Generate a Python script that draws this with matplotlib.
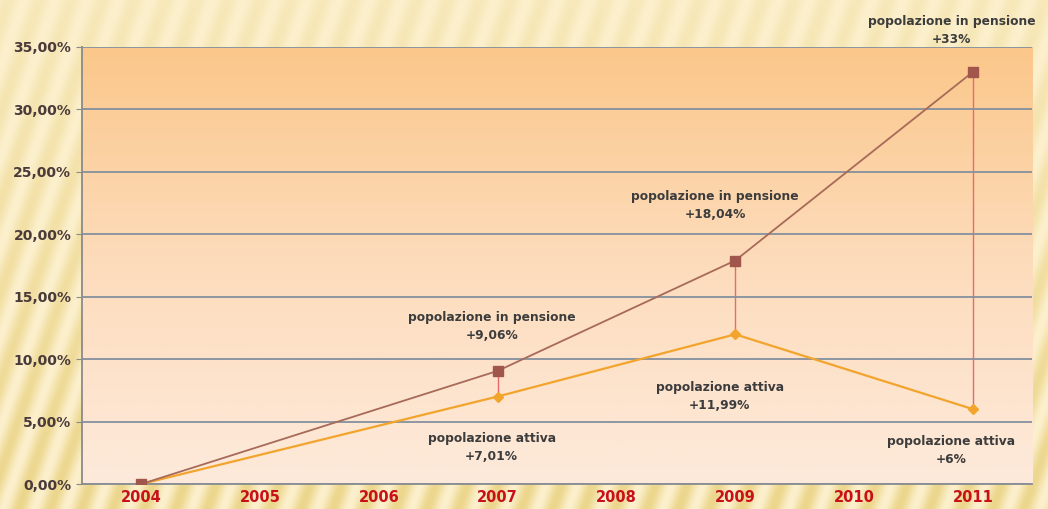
import numpy as np
import matplotlib
matplotlib.use('Agg')
import matplotlib.pyplot as plt
from matplotlib.colors import LinearSegmentedColormap
from matplotlib.ticker import FuncFormatter

anni = ['2004', '2005', '2006', '2007', '2008', '2009', '2010', '2011']
anni_dati = ['2004', '2007', '2009', '2011']
pensione = [0.0, 9.06, 17.9, 33.0]
attiva = [0.0, 7.01, 11.99, 6.0]
etichette_pensione = ['', 'popolazione in pensione\n+9,06%', 'popolazione in pensione\n+18,04%',
                      'popolazione in pensione\n+33%']
etichette_attiva = ['', 'popolazione attiva\n+7,01%', 'popolazione attiva\n+11,99%',
                    'popolazione attiva\n+6%']

fig = plt.figure(figsize=(10.48, 5.09), dpi=100)

# sfondo a righe diagonali
bg = fig.add_axes([0, 0, 1, 1], zorder=-10)
xx, yy = np.meshgrid(np.arange(1048), np.arange(509))
stripes = (np.sin((xx + 0.35 * yy) / 5.0) + 1) / 2
vert = yy / 509.0
base = np.zeros((509, 1048, 3))
c1 = np.array([252, 240, 205]) / 255
c2 = np.array([236, 214, 140]) / 255
mix = stripes * (0.3 + 0.7 * vert)
base[:] = c1 * (1 - mix[..., None]) + c2 * mix[..., None]
bg.imshow(base, aspect='auto', extent=[0, 1, 0, 1])
bg.axis('off')

ax = fig.add_axes([0.078, 0.049, 0.907, 0.8587])
x = [anni.index(a) for a in anni_dati]

# gradiente area del grafico
grad = np.linspace(0, 1, 256).reshape(-1, 1)
cmap = LinearSegmentedColormap.from_list('g', ['#FDEADB', '#FDDCBC', '#FBC78A'])
ax.imshow(grad, aspect='auto', cmap=cmap, origin='lower',
          extent=[-0.5, 7.5, 0, 35], zorder=0)

for i in range(1, len(x)):
    ax.plot([x[i], x[i]], [attiva[i], pensione[i]], color='#E86A6A', lw=1, zorder=2)

ax.plot(x, pensione, color='#A86A58', lw=1.3, marker='s', ms=7,
        mfc='#A0564A', mec='#A0564A', zorder=4)
ax.plot(x, attiva, color='#F2A42C', lw=1.6, marker='D', ms=5,
        mfc='#F2A42C', mec='#F2A42C', zorder=3)

ax.set_xlim(-0.5, 7.5)
ax.set_ylim(0, 35)
ax.set_yticks(np.arange(0, 36, 5))
ax.yaxis.set_major_formatter(FuncFormatter(lambda v, p: f'{v:.2f}%'.replace('.', ',')))
ax.set_xticks(range(len(anni)))
ax.set_xticklabels(anni)
ax.grid(axis='y', color='#84909E', lw=1.3, zorder=1)
ax.set_axisbelow(False)
for s in ['top', 'right']:
    ax.spines[s].set_visible(False)
for s in ['left', 'bottom']:
    ax.spines[s].set_color('#8A8A8A')
    ax.spines[s].set_linewidth(1.3)
ax.tick_params(axis='y', length=4, color='#8A8A8A', labelsize=10, labelcolor='#4A3A3A')
ax.tick_params(axis='x', length=0, labelsize=10.5, labelcolor='#C8101A', pad=4)
for t in ax.get_yticklabels() + ax.get_xticklabels():
    t.set_fontweight('bold')

pos_pensione = [None, (2.95, 12.65), (4.83, 22.3), (6.82, 36.3)]
pos_attiva = [None, (2.95, 2.9), (4.87, 7.0), (6.82, 2.7)]
for i in range(1, len(x)):
    ax.text(*pos_pensione[i], etichette_pensione[i], ha='center', va='center',
            fontsize=8.8, fontweight='bold', color='#3C3C3C', linespacing=1.5,
            clip_on=False, zorder=5)
    ax.text(*pos_attiva[i], etichette_attiva[i], ha='center', va='center',
            fontsize=8.8, fontweight='bold', color='#3C3C3C', linespacing=1.5,
            clip_on=False, zorder=5)

fig.savefig('out.png', dpi=100)
